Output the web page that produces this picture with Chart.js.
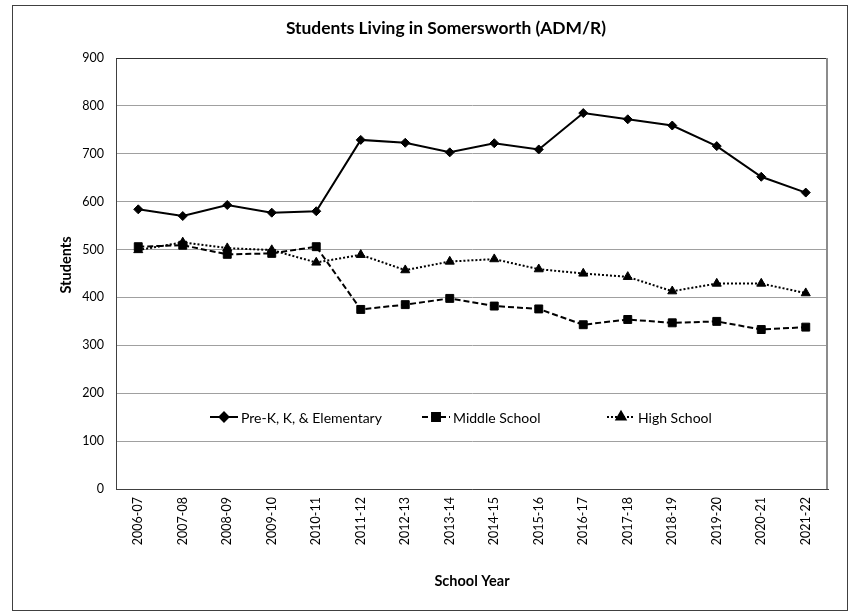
<!DOCTYPE html>
<html>
<head>
<meta charset="utf-8">
<script src="https://cdn.jsdelivr.net/npm/chart.js@4.4.0/dist/chart.umd.min.js"></script>
<style>
  html, body { margin: 0; padding: 0; background: #fff; }
  #wrap { width: 860px; height: 616px; }
</style>
</head>
<body>
<div id="wrap"><canvas id="chart" width="860" height="616"></canvas></div>
<script>
// data
const years = ["2006-07", "2007-08", "2008-09", "2009-10", "2010-11", "2011-12", "2012-13", "2013-14",
  "2014-15", "2015-16", "2016-17", "2017-18", "2018-19", "2019-20", "2020-21", "2021-22"];
const elementary = [584, 570, 593, 577, 580, 729, 723, 703, 722, 709, 785, 772, 759, 716, 652, 619];
const middle = [506, 509, 490, 492, 506, 375, 385, 398, 382, 376, 343, 354, 347, 350, 333, 338];
const high = [499, 515, 503, 499, 473, 489, 457, 475, 480, 459, 450, 443, 413, 429, 429, 409];
const yMin = 0, yMax = 900, yStep = 100;

const FONT = "Lato, 'Open Sans', sans-serif";

// outer frame + plot border
const framePlugin = {
  id: 'frame',
  beforeDraw(chart) {
    const ctx = chart.ctx;
    ctx.save();
    ctx.fillStyle = '#fff';
    ctx.fillRect(0, 0, chart.width, chart.height);
    ctx.strokeStyle = '#404040';
    ctx.lineWidth = 1;
    ctx.strokeRect(12.5, 5.5, 835, 605);
    ctx.restore();
  },
  beforeDatasetsDraw(chart) {
    const {ctx, chartArea: a} = chart;
    ctx.save();
    ctx.lineWidth = 1;
    ctx.strokeStyle = '#303030';
    ctx.beginPath();
    ctx.moveTo(a.left, a.top + 0.5);
    ctx.lineTo(a.right, a.top + 0.5);
    ctx.stroke();
    ctx.strokeStyle = '#8c8c8c';
    ctx.lineWidth = 2;
    ctx.beginPath();
    ctx.moveTo(a.right - 1, a.top);
    ctx.lineTo(a.right - 1, a.bottom);
    ctx.stroke();
    ctx.restore();
  }
};

// chart title and y axis title, placed like the excel ones
const titlesPlugin = {
  id: 'titles',
  afterDraw(chart) {
    const ctx = chart.ctx;
    ctx.save();
    ctx.fillStyle = '#000';
    ctx.textAlign = 'center';
    ctx.textBaseline = 'middle';
    ctx.font = "bold 17.4px " + FONT;
    ctx.fillText('Students Living in Somersworth (ADM/R)', 446, 28);
    ctx.translate(66, 265);
    ctx.rotate(-Math.PI / 2);
    ctx.font = "bold 14.5px " + FONT;
    ctx.fillText('Students', 0, 0);
    ctx.restore();
  }
};

// legend sitting inside the plot
const legendPlugin = {
  id: 'innerLegend',
  afterDraw(chart) {
    const ctx = chart.ctx;
    const y = 417;
    const starts = [210, 422, 607];
    chart.data.datasets.forEach((ds, i) => {
      const x0 = starts[i];
      ctx.save();
      ctx.strokeStyle = ds.borderColor;
      ctx.fillStyle = ds.pointBackgroundColor;
      ctx.lineWidth = ds.borderWidth;
      ctx.setLineDash(ds.borderDash || []);
      ctx.beginPath();
      ctx.moveTo(x0, y);
      ctx.lineTo(x0 + 28, y);
      ctx.stroke();
      ctx.setLineDash([]);
      Chart.helpers.drawPoint(ctx, {pointStyle: ds.pointStyle, radius: ds.pointRadius, borderWidth: 1, rotation: 0}, x0 + 14, y);
      ctx.font = "14px " + FONT;
      ctx.fillStyle = '#000';
      ctx.textBaseline = 'middle';
      ctx.fillText(ds.label, x0 + 31, y + 1);
      ctx.restore();
    });
  }
};

new Chart(document.getElementById('chart'), {
  type: 'line',
  data: {
    labels: years,
    datasets: [
      {
        label: 'Pre-K, K, & Elementary',
        data: elementary,
        borderColor: '#000',
        backgroundColor: '#000',
        pointBackgroundColor: '#000',
        pointBorderColor: '#000',
        borderWidth: 2,
        pointStyle: 'rectRot',
        pointRadius: 4.5,
        pointBorderWidth: 1,
        tension: 0
      },
      {
        label: 'Middle School',
        data: middle,
        borderColor: '#000',
        backgroundColor: '#000',
        pointBackgroundColor: '#000',
        pointBorderColor: '#000',
        borderWidth: 2,
        borderDash: [6, 3],
        pointStyle: 'rect',
        pointRadius: 5.6,
        pointBorderWidth: 1,
        tension: 0
      },
      {
        label: 'High School',
        data: high,
        borderColor: '#000',
        backgroundColor: '#000',
        pointBackgroundColor: '#000',
        pointBorderColor: '#000',
        borderWidth: 2,
        borderDash: [2, 2],
        pointStyle: 'triangle',
        pointRadius: 5.2,
        pointBorderWidth: 1,
        tension: 0
      }
    ]
  },
  options: {
    responsive: false,
    animation: false,
    devicePixelRatio: 1,
    layout: {
      padding: { left: 22, right: 32, top: 58, bottom: 0 }
    },
    plugins: {
      legend: { display: false },
      tooltip: { enabled: false },
      title: { display: false }
    },
    scales: {
      x: {
        offset: true,
        grid: { display: false, drawTicks: false },
        border: { display: true, color: '#404040', width: 1 },
        ticks: {
          color: '#000',
          font: { family: FONT, size: 12.5 },
          minRotation: 90,
          maxRotation: 90,
          padding: 8,
          autoSkip: false
        },
        title: {
          display: true,
          text: 'School Year',
          color: '#000',
          font: { family: FONT, size: 14.5, weight: 'bold', lineHeight: 1.2 },
          padding: { top: 0, bottom: 26.3 }
        },
        afterFit(scale) { scale.height = 127; }
      },
      y: {
        min: yMin,
        max: yMax,
        grid: { color: '#a0a0a0', lineWidth: 1, drawTicks: false },
        border: { display: true, color: '#404040', width: 1 },
        ticks: {
          stepSize: yStep,
          color: '#000',
          font: { family: FONT, size: 12.5 },
          padding: 12
        },
        afterFit(scale) { scale.width = 94; }
      }
    }
  },
  plugins: [framePlugin, titlesPlugin, legendPlugin]
});
</script>
</body>
</html>
